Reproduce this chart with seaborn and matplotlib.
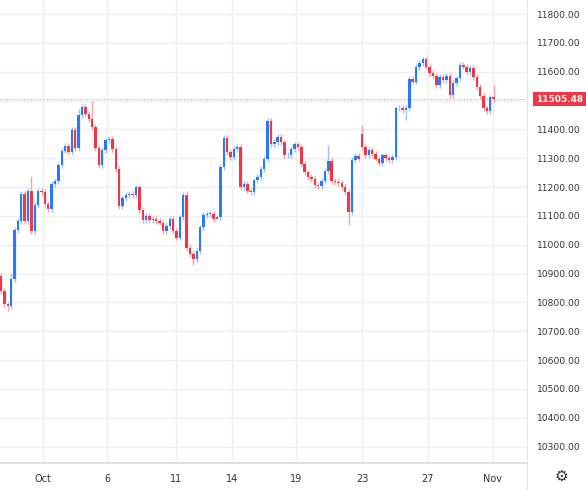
import numpy as np
import seaborn as sns
import matplotlib.pyplot as plt

# candle data (hourly-ish bars)
first_open = 10892
closes = [10839, 10793, 10787, 10880, 11050, 11083, 11176, 11083, 11188, 11048,
          11139, 11188, 11183, 11141, 11124, 11211, 11222, 11275, 11327, 11342,
          11321, 11397, 11335, 11449, 11478, 11455, 11437, 11408, 11336, 11275,
          11329, 11362, 11368, 11333, 11263, 11135, 11162, 11174, 11176, 11172,
          11199, 11120, 11085, 11100, 11087, 11090, 11083, 11077, 11049, 11065,
          11089, 11049, 11025, 11095, 11174, 10990, 10967, 10950, 10979, 11060,
          11103, 11106, 11108, 11089, 11095, 11269, 11371, 11321, 11304, 11333,
          11340, 11199, 11211, 11188, 11182, 11223, 11236, 11263, 11298, 11429,
          11350, 11356, 11373, 11355, 11310, 11312, 11333, 11348, 11339, 11281,
          11251, 11234, 11228, 11207, 11205, 11222, 11257, 11292, 11222, 11218,
          11215, 11200, 11183, 11113, 11293, 11307, 11299, 11339, 11310, 11330,
          11314, 11299, 11284, 11310, 11302, 11295, 11305, 11473, 11476, 11468,
          11474, 11574, 11566, 11616, 11630, 11643, 11618, 11595, 11585, 11554,
          11583, 11571, 11585, 11519, 11560, 11577, 11624, 11618, 11598, 11612,
          11583, 11548, 11516, 11473, 11465, 11511, 11505.48]
open_gaps = {107: 11383}          # bars whose open is not the previous close
wick_high = {3: 10903, 9: 11240, 23: 11470, 27: 11499, 55: 11188, 97: 11345,
             107: 11415, 146: 11555}
wick_low = {2: 10770, 57: 10930, 103: 11068, 120: 11432, 64: 11085}
tick_pos = [12.5, 31.5, 52, 68.5, 87.5, 107, 126.5, 145.7]
tick_labels = ["Oct", "6", "11", "14", "19", "23", "27", "Nov"]
last_price = 11505.48

sns.set_theme(style="white")
plt.rcParams['font.family'] = ['DejaVu Sans']

n = len(closes)
x = np.arange(n)
opens = [first_open] + closes[:-1]
for k, v in open_gaps.items():
    opens[k] = v
opens = np.array(opens, dtype=float)
closes_a = np.array(closes, dtype=float)
hi = np.maximum(opens, closes_a) + 10
lo = np.minimum(opens, closes_a) - 10
for k, v in wick_high.items():
    hi[k] = v
for k, v in wick_low.items():
    lo[k] = v

up_c, dn_c = "#2979FF", "#F23645"
colors = np.where(closes_a >= opens, up_c, dn_c)

fig = plt.figure(figsize=(5.86, 4.9), dpi=100)
ax = fig.add_axes([0, 0.055, 0.9, 0.945])
ax.vlines(x, lo, hi, colors=colors, linewidth=1, alpha=0.45)
body = np.abs(closes_a - opens)
body = np.maximum(body, 3)
ax.bar(x, body, bottom=np.minimum(opens, closes_a), width=0.72, color=colors, linewidth=0)

ax.axhline(last_price, color=dn_c, linestyle=(0, (1, 2)), linewidth=0.8, alpha=0.6)

ax.set_xlim(-0.3, 156)
ax.set_ylim(10243, 11849)
yt = np.arange(10300, 11801, 100)
ax.set_yticks(yt)
ax.yaxis.tick_right()
ax.set_yticklabels(["" if v == 11500 else f"{v:.2f}" for v in yt], fontsize=6.6, color="#333333")
ax.set_xticks(tick_pos)
ax.set_xticklabels(tick_labels, fontsize=7, color="#333333")
ax.tick_params(axis="y", length=0, pad=7)
ax.tick_params(axis="x", length=0, pad=8)
ax.grid(True, color="#EDEFF3", linewidth=1)
ax.set_axisbelow(True)
for s in ["top", "right", "left"]:
    ax.spines[s].set_visible(False)
ax.spines["bottom"].set_color("#D6DCDE")
ax.text(1.016, last_price, f"{last_price:.2f}", transform=ax.get_yaxis_transform(),
        fontsize=6.5, color="white", fontweight="bold", va="center", ha="left",
        bbox=dict(boxstyle="square,pad=0.3", fc=dn_c, ec="none"))
fig.text(0.958, 0.028, "\u2699", fontsize=11, color="#333333", ha="center", va="center")
fig.add_artist(plt.Line2D([0.9, 0.9], [0, 1], color="#E0E3EB", linewidth=0.8))

fig.savefig("out.png", dpi=100)
